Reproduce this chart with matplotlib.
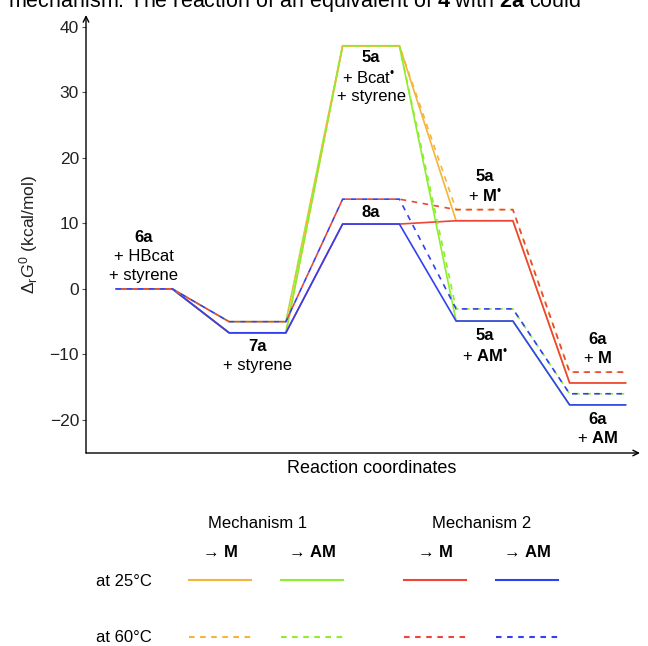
import numpy as np
import matplotlib
matplotlib.use("Agg")
import matplotlib.pyplot as plt

plt.rcParams['font.family'] = ['Liberation Sans', 'DejaVu Sans']
plt.rcParams['mathtext.fontset'] = 'custom'
plt.rcParams['mathtext.rm'] = 'Liberation Sans'
plt.rcParams['mathtext.it'] = 'Liberation Sans:italic'
plt.rcParams['mathtext.bf'] = 'Liberation Sans:bold'
plt.rcParams['lines.scale_dashes'] = False

W, H = 648, 646

# energy levels (kcal/mol) at the five reaction steps
steps = [0, 1, 2, 3, 4]
m1_M_25 = [0, -6.7, 37.1, 10.4, -14.35]
m1_AM_25 = [0, -6.7, 37.1, -4.9, -17.7]
m2_M_25 = [0, -6.7, 9.9, 10.4, -14.35]
m2_AM_25 = [0, -6.7, 9.9, -4.9, -17.7]
m1_M_60 = [0, -5.0, 37.1, 12.1, -12.7]
m1_AM_60 = [0, -5.0, 37.1, -3.05, -16.0]
m2_M_60 = [0, -5.0, 13.7, 12.1, -12.7]
m2_AM_60 = [0, -5.0, 13.7, -3.05, -16.0]

colors = ['#f5b43a', '#8cee2c', '#ec4638', '#3340f2']
dash_offset = [0, 4, 4, 0]
series_25 = [m1_M_25, m1_AM_25, m2_M_25, m2_AM_25]
series_60 = [m1_M_60, m1_AM_60, m2_M_60, m2_AM_60]
yticks = [-20, -10, 0, 10, 20, 30, 40]

half = 0.25
dot = '\u2022'


def level_path(levels):
    xs, ys = [], []
    for s, v in zip(steps, levels):
        xs += [s - half, s + half]
        ys += [v, v]
    return xs, ys


fig = plt.figure(figsize=(W / 100, H / 100), dpi=100)

# legend / caption layer in pixel coordinates
lax = fig.add_axes([0, 0, 1, 1])
lax.set_xlim(0, W)
lax.set_ylim(H, 0)
lax.axis('off')

lax.text(8, 7, "mechanism. The reaction of an equivalent of $\\mathbf{4}$ with $\\mathbf{2a}$ could",
         fontsize=15.5, va='baseline', ha='left')

ax = fig.add_axes([86 / W, 1 - 453 / H, (640 - 86) / W, (453 - 15) / H])
ax.set_xlim(-0.511, 4.37)
ax.set_ylim(-25.04, 41.8)
ax.patch.set_alpha(0)

for i in range(4):
    xs, ys = level_path(series_25[i])
    ax.plot(xs, ys, color=colors[i], lw=1.2, solid_capstyle='butt')
for i in range(4):
    xs, ys = level_path(series_60[i])
    ax.plot(xs, ys, color=colors[i], lw=1.2,
            linestyle=(dash_offset[i], (4, 4)), dash_capstyle='butt')

for sp in ax.spines.values():
    sp.set_visible(False)
ax.annotate('', xy=(0, 1), xytext=(0, 0), xycoords='axes fraction',
            arrowprops=dict(arrowstyle='->', lw=1.0, color='black',
                            shrinkA=0, shrinkB=0, mutation_scale=10))
ax.annotate('', xy=(1, 0), xytext=(0, 0), xycoords='axes fraction',
            arrowprops=dict(arrowstyle='->', lw=1.0, color='black',
                            shrinkA=0, shrinkB=0, mutation_scale=10))
ax.set_xticks([])
ax.set_yticks(yticks)
ax.set_yticklabels([str(t).replace('-', '\u2212') for t in yticks], fontsize=12.5,
                   color='#222222')
ax.tick_params(axis='y', length=3, width=0.8, color='#555555', pad=2)
ax.set_ylabel(r'$\Delta_{\mathrm{r}}G^{0}$ (kcal/mol)', fontsize=12.5, color='#222222')
ax.yaxis.set_label_coords(-0.083, 0.5)
ax.set_xlabel('Reaction coordinates', fontsize=13)
ax.xaxis.set_label_coords(0.515, -0.015)

# state labels
fs = 12
lab = dict(ha='center', va='center', fontsize=fs)
ax.text(0, 7.8, '6a', fontweight='bold', **lab)
ax.text(0, 4.9, '+ HBcat', **lab)
ax.text(0, 2.0, '+ styrene', **lab)
ax.text(1, -8.8, '7a', fontweight='bold', **lab)
ax.text(1, -11.7, '+ styrene', **lab)
ax.text(2, 35.3, '5a', fontweight='bold', **lab)
ax.text(1.98, 32.2, '+ Bcat$^{' + dot + '}$', **lab)
ax.text(2, 29.4, '+ styrene', **lab)
ax.text(2, 11.6, '8a', fontweight='bold', **lab)
ax.text(3, 17.2, '5a', fontweight='bold', **lab)
ax.text(3, 14.2, r'+ $\mathbf{M}^{' + dot + '}$', **lab)
ax.text(3, -7.1, '5a', fontweight='bold', **lab)
ax.text(3, -10.2, r'+ $\mathbf{AM}^{' + dot + '}$', **lab)
ax.text(4, -7.7, '6a', fontweight='bold', **lab)
ax.text(4, -10.6, r'+ $\mathbf{M}$', **lab)
ax.text(4, -19.9, '6a', fontweight='bold', **lab)
ax.text(4, -22.8, r'+ $\mathbf{AM}$', **lab)

# legend grid
col_x = [220, 312, 435, 527]
heads = ['$\u2192\\mathbf{\\ M}$', '$\u2192\\mathbf{\\ AM}$'] * 2
lax.text(258, 523, 'Mechanism 1', ha='center', va='center', fontsize=12)
lax.text(482, 523, 'Mechanism 2', ha='center', va='center', fontsize=12)
for cx, h in zip(col_x, heads):
    lax.text(cx, 552, h, ha='center', va='center', fontsize=12)
lax.text(96, 581, 'at 25°C', ha='left', va='center', fontsize=12)
lax.text(96, 637, 'at 60°C', ha='left', va='center', fontsize=12)
for i, cx in enumerate(col_x):
    lax.plot([cx - 31, cx + 31], [580, 580], color=colors[i], lw=1.5)
    lax.plot([cx - 31, cx + 31], [637, 637], color=colors[i], lw=1.5,
             linestyle=(0, (4, 4)))

fig.savefig('out.png', dpi=100)
